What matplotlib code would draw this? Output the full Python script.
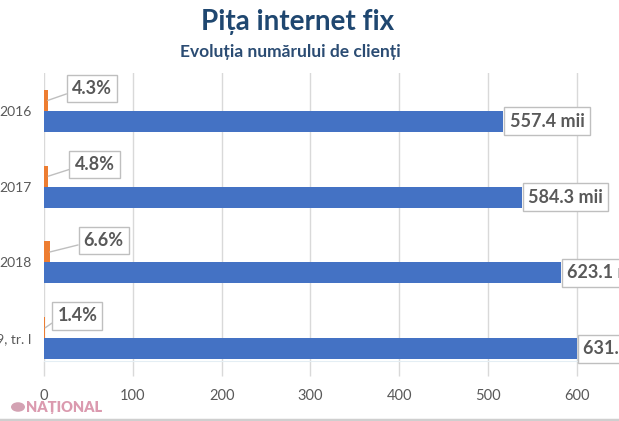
import matplotlib
matplotlib.use("Agg")
import matplotlib.pyplot as plt
from matplotlib.lines import Line2D
from matplotlib.patches import Circle

# ---- data ----
categories = ["2016", "2017", "2018", "2019, tr. I"]
clients = [517, 538, 582, 600]          # bar lengths
client_labels = ["557.4 mii", "584.3 mii", "623.1 mii", "631.8 mii"]
growth = [4.3, 4.8, 6.6, 1.4]
growth_labels = ["4.3%", "4.8%", "6.6%", "1.4%"]
xticks = [0, 100, 200, 300, 400, 500, 600]

BLUE = "#4472C4"
ORANGE = "#ED7D31"
GRID = "#D9D9D9"
TXT = "#595959"
NAVY = "#1F4770"
FONT = ["Lato", "DejaVu Sans"]

plt.rcParams["font.family"] = FONT

W, H = 619, 421
fig = plt.figure(figsize=(W / 100, H / 100), dpi=100)
fig.patch.set_facecolor("white")

px_per_unit = 533 / 600.0
xmax = 700
ax = fig.add_axes([44 / W, (H - 361) / H, xmax * px_per_unit / W, 288 / H])

ypos = list(range(len(categories)))
h = 0.277
ax.barh([y - h / 2 for y in ypos], growth, height=h, color=ORANGE, zorder=3)
ax.barh([y + h / 2 for y in ypos], clients, height=h, color=BLUE, zorder=3)

ax.set_xlim(0, xmax)
ax.set_ylim(3.30, -0.50)
ax.set_xticks(xticks)
ax.set_xticklabels([str(t) for t in xticks], fontsize=10.5, color=TXT)
ax.set_yticks(ypos)
ax.set_yticklabels(categories, fontsize=10, color=TXT)
ax.tick_params(axis="y", length=0, pad=9)
ax.tick_params(axis="x", length=11, width=1, color=GRID, pad=9, direction="out")
ax.grid(axis="x", color=GRID, lw=1, zorder=0)
for s in ["top", "right", "left"]:
    ax.spines[s].set_visible(False)
ax.spines["bottom"].set_color("#E4EEF4")
ax.set_axisbelow(True)

# value labels for the blue bars
for y, v, lab in zip(ypos, clients, client_labels):
    ax.annotate(lab, xy=(v, y + h / 2), xytext=(4.5, 0), textcoords="offset points",
                ha="left", va="center", fontsize=13, fontweight="bold", color=TXT,
                zorder=5,
                bbox=dict(boxstyle="square,pad=0.3", fc="white", ec="#BFBFBF", lw=1))

# callout labels for the orange bars
for y, v, lab in zip(ypos, growth, growth_labels):
    dx = 1 + 3 * v
    ax.annotate(lab, xy=(v, y - h / 2), xytext=(dx + 3.5, 8.5), textcoords="offset points",
                ha="left", va="center", fontsize=13, fontweight="bold", color=TXT,
                zorder=5,
                bbox=dict(boxstyle="square,pad=0.28", fc="white", ec="#BFBFBF", lw=1),
                arrowprops=dict(arrowstyle="-", color="#BFBFBF", lw=1,
                                shrinkA=0, shrinkB=0, relpos=(0, 0.3)))

# titles
fig.text(298 / W, 1 - 22 / H, "Pița internet fix", ha="center", va="center",
         fontsize=20, fontweight="bold", color=NAVY)
fig.text(290 / W, 1 - 52 / H, "Evoluția numărului de clienți", ha="center", va="center",
         fontsize=12.5, fontweight="bold", color="#2B4C73")

# watermark
fig.patches.append(Circle((18 / W, 1 - 407 / H), 7 / W, transform=fig.transFigure,
                          fc="#C98BA0", ec="none", alpha=0.8))
fig.text(26 / W, 1 - 408 / H, "NAȚIONAL", ha="left", va="center", fontsize=10.5,
         fontweight="heavy", color="#D78FA6", alpha=0.9)

# bottom frame line
fig.add_artist(Line2D([0, 1], [1.5 / H, 1.5 / H], transform=fig.transFigure,
                      color="#CFCFCF", lw=2.5))

fig.savefig("out.png", dpi=100)
